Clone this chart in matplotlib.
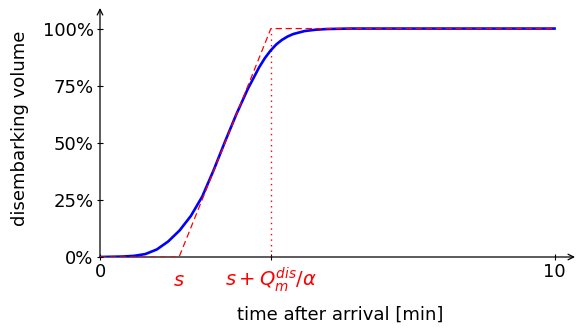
import matplotlib
matplotlib.use('Agg')
import matplotlib.pyplot as plt

# blue curve (time in min, volume in %)
t = [0, 0.5, 0.75, 1.0, 1.25, 1.5, 1.75, 2.0, 2.25, 2.5, 2.75, 3.0, 3.25,
     3.5, 3.625, 3.75, 3.875, 4.0, 4.125, 4.25, 4.5, 4.75, 5.0, 5.5, 10.0]
vol = [0, 0.2, 0.5, 1.3, 3.3, 6.8, 11.6, 18.0, 26.5, 38.0, 50.5, 62.5, 73.5,
       83.0, 87.0, 90.3, 93.0, 95.0, 96.5, 97.6, 98.9, 99.5, 99.8, 100.0, 100.0]

# piecewise linear approximation
s = 1.74
s_end = 3.76
ramp_t = [0, s, s_end, 10.0]
ramp_v = [0, 0, 100, 100]

yticks = [0, 25, 50, 75, 100]
ylabels = ['0%', '25%', '50%', '75%', '100%']

plt.rcParams['mathtext.fontset'] = 'dejavusans'

fig = plt.figure(figsize=(5.77, 3.30), dpi=100)
ax = fig.add_axes([100 / 577, 73 / 330, 475 / 577, 249 / 330])
ax.set_xlim(0, 10.45)
ax.set_ylim(0, 109)

for sp in ax.spines.values():
    sp.set_visible(False)

# axis lines with arrows
ax.annotate('', xy=(1, 0), xytext=(0, 0), xycoords='axes fraction',
            arrowprops=dict(arrowstyle='->', lw=0.9, color='black',
                            shrinkA=0, shrinkB=0))
ax.annotate('', xy=(0, 1), xytext=(0, 0), xycoords='axes fraction',
            arrowprops=dict(arrowstyle='->', lw=0.9, color='black',
                            shrinkA=0, shrinkB=0))

ax.plot([s_end, s_end], [0, 100], color='red', ls=(0, (1, 3)), lw=1.0)
ax.plot(t, vol, color='blue', lw=1.9, zorder=3, solid_joinstyle='round')
ax.plot(ramp_t, ramp_v, color='red', ls=(0, (5, 3)), lw=0.9, zorder=4)

ax.set_xticks([0, s_end, 10])
ax.set_xticklabels(['0', '', '10'])
ax.set_yticks(yticks)
ax.set_yticklabels(ylabels)
ax.tick_params(direction='inout', length=5, width=0.8, labelsize=13, pad=2)

ax.text(s, -12.5, r'$s$', color='red', fontsize=14, ha='center', va='baseline')
ax.text(s_end, -12.5, r'$s + Q_m^{dis}/\alpha$', color='red', fontsize=14,
        ha='center', va='baseline')

ax.set_xlabel('time after arrival [min]', fontsize=13)
ax.set_ylabel('disembarking volume', fontsize=13)
ax.xaxis.set_label_coords(0.505, -0.197)
ax.yaxis.set_label_coords(-0.149, 0.518)

fig.savefig('out.png', dpi=100)
